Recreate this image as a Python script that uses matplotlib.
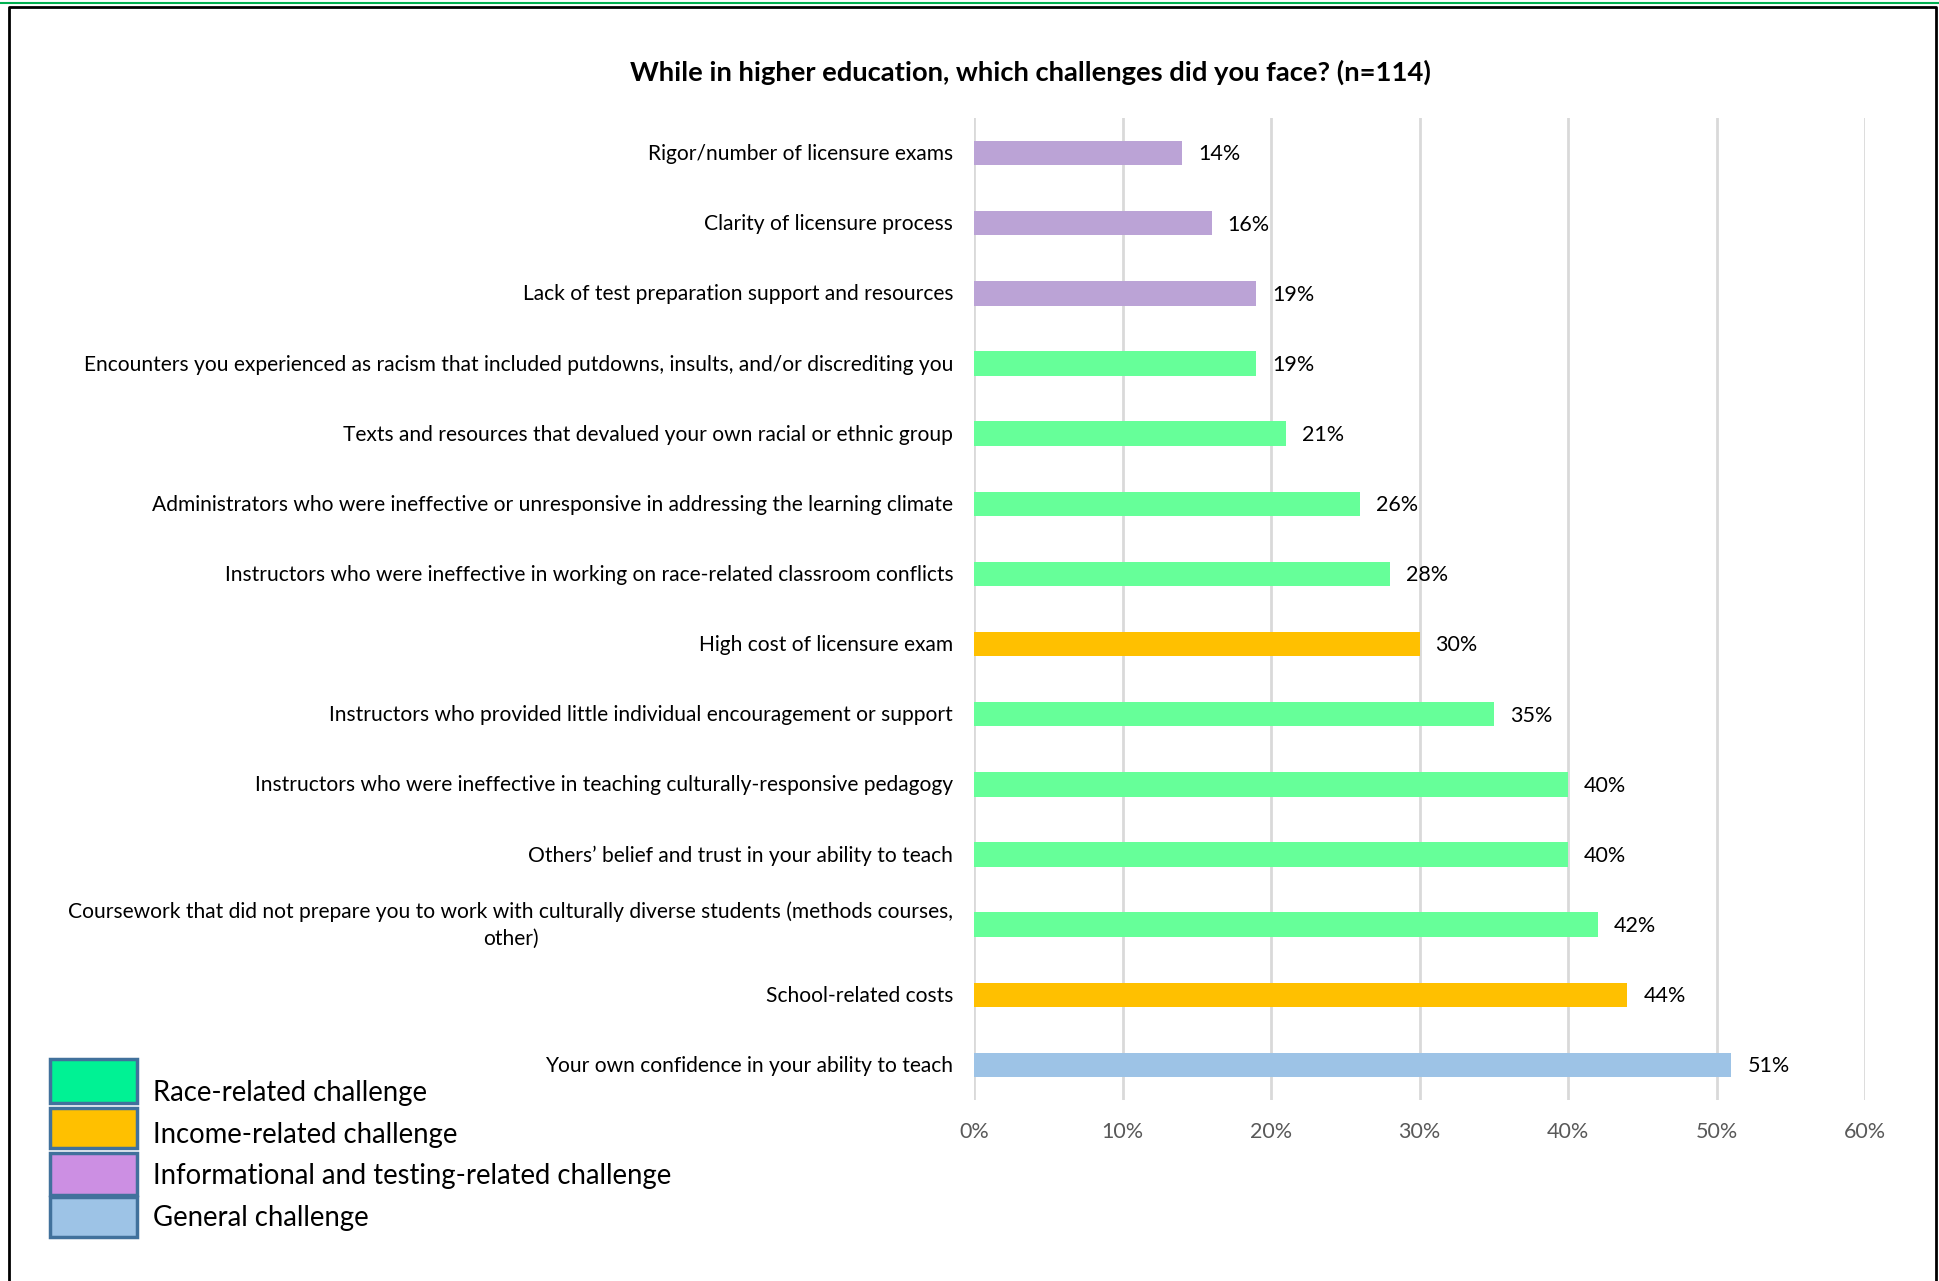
import matplotlib
matplotlib.use("Agg")
import matplotlib.pyplot as plt
from matplotlib.patches import Rectangle
from matplotlib.lines import Line2D
from matplotlib.ticker import FuncFormatter
from matplotlib.transforms import ScaledTranslation

plt.rcParams['font.family'] = ['Lato', 'DejaVu Sans']

# ---- data (top to bottom as in the chart) ----
challenges = [
    "Rigor/number of licensure exams",
    "Clarity of licensure process",
    "Lack of test preparation support and resources",
    "Encounters you experienced as racism that included putdowns, insults, and/or discrediting you",
    "Texts and resources that devalued your own racial or ethnic group",
    "Administrators who were ineffective or unresponsive in addressing the learning climate",
    "Instructors who were ineffective in working on race-related classroom conflicts",
    "High cost of licensure exam",
    "Instructors who provided little individual encouragement or support",
    "Instructors who were ineffective in teaching culturally-responsive pedagogy",
    "Others\u2019 belief and trust in your ability to teach",
    "Coursework that did not prepare you to work with culturally diverse students (methods courses,\nother)",
    "School-related costs",
    "Your own confidence in your ability to teach",
]
percent = [14, 16, 19, 19, 21, 26, 28, 30, 35, 40, 40, 42, 44, 51]
group = ["info", "info", "info", "race", "race", "race", "race", "income",
         "race", "race", "race", "race", "income", "general"]

bar_colors = {"race": "#66FF99", "income": "#FFC000", "info": "#BBA3D6", "general": "#9DC3E6"}
legend_names = ["Race-related challenge", "Income-related challenge",
                "Informational and testing-related challenge", "General challenge"]
legend_colors = ["#00F294", "#FFC000", "#CC8FE3", "#9DC3E6"]

W, H = 1939, 1281
fig = plt.figure(figsize=(W / 100, H / 100), dpi=100)

def fx(px):
    return px / W

def fy(py):
    return 1 - py / H

ax = fig.add_axes([fx(974), fy(1100), fx(1865) - fx(974), fy(118) - fy(1100)])

ypos = list(range(len(challenges)))
ax.barh(ypos, percent, height=0.35, color=[bar_colors[g] for g in group], zorder=3)
ax.set_ylim(len(challenges) - 0.5, -0.5)
ax.set_xlim(0, 60)
ax.set_xticks(range(0, 61, 10))
ax.xaxis.set_major_formatter(FuncFormatter(lambda v, p: f"{int(v)}%"))
ax.set_yticks(ypos)
ax.set_yticklabels(challenges, multialignment="center", linespacing=1.45)
ax.tick_params(axis="y", length=0, pad=15, labelsize=15.1, labelcolor="#000000")
ax.tick_params(axis="x", length=0, pad=16, labelsize=15.5, labelcolor="#595959")
ax.grid(axis="x", color="#D9D9D9", linewidth=2, zorder=0)
for s in ax.spines.values():
    s.set_visible(False)

# nudge labels up a touch; the two-line one a bit more
for lab in ax.get_yticklabels():
    dy = 0.05 if "\n" in lab.get_text() else 0.01
    lab.set_transform(lab.get_transform() + ScaledTranslation(0, dy, fig.dpi_scale_trans))

for y, v in zip(ypos, percent):
    ax.annotate(f"{v}%", (v, y), xytext=(11.5, -1), textcoords="offset points",
                va="center", ha="left", fontsize=15.5, color="#000000")

fig.text(fx(1030), fy(72), "While in higher education, which challenges did you face? (n=114)",
         ha="center", va="center", fontsize=19.7, fontweight="bold")

# manual legend, bottom left
box_tops = [1059, 1108, 1153, 1197]
box_bottoms = [1103, 1148, 1195, 1237]
text_y = [1093, 1135, 1176, 1218]
for name, col, t, b, ty in zip(legend_names, legend_colors, box_tops, box_bottoms, text_y):
    fig.patches.append(Rectangle((fx(50), fy(b)), fx(137) - fx(50), fy(t) - fy(b),
                                 transform=fig.transFigure, facecolor=col,
                                 edgecolor="#41719C", linewidth=2.5))
    fig.text(fx(153), fy(ty), name, ha="left", va="center", fontsize=19.8)

# frame around the chart
fig.lines.append(Line2D([fx(0), fx(W)], [fy(3), fy(3)], transform=fig.transFigure,
                        color="#00B050", linewidth=1.5))
fig.lines.append(Line2D([fx(9), fx(9), fx(1936), fx(1936)], [fy(H + 5), fy(7), fy(7), fy(H + 5)],
                        transform=fig.transFigure, color="#000000", linewidth=2))

fig.savefig("out.png", dpi=100)
